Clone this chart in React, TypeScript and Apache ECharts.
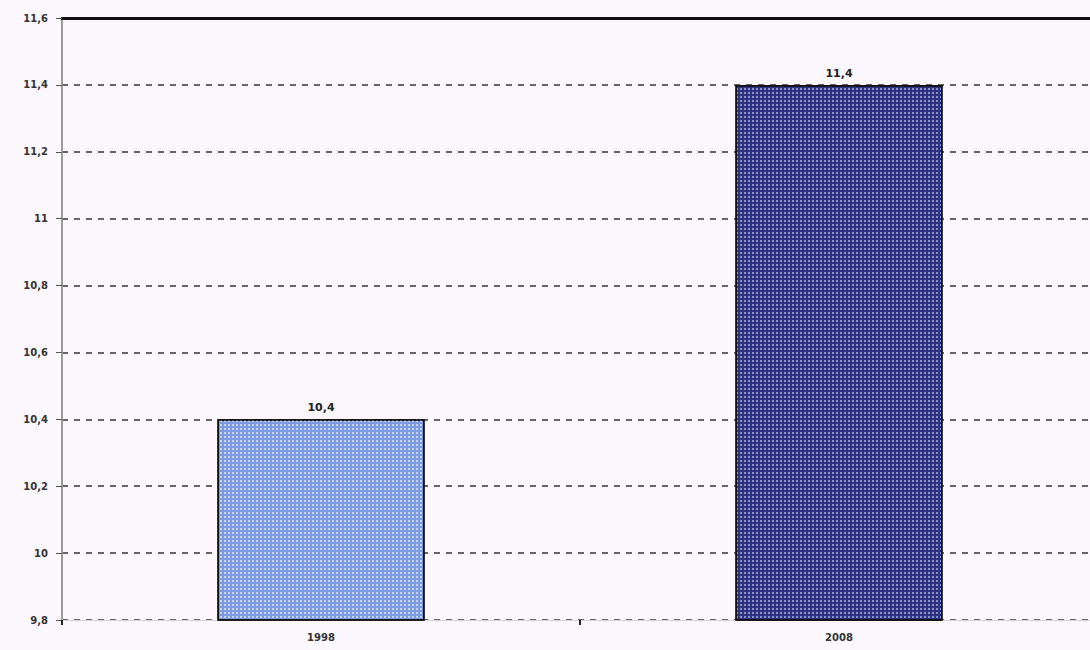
import React, { useEffect, useRef } from "react";
import * as echarts from "echarts";

const categories = ["1998", "2008"];
const values = [10.4, 11.4];
const barColors = ["#7d9ae0", "#2e3282"];
const yMin = 9.8;
const yMax = 11.6;
const yStep = 0.2;

export default function App() {
  const ref = useRef<HTMLDivElement>(null);
  useEffect(() => {
    if (!ref.current) return;
    const chart = echarts.init(ref.current, undefined, { renderer: "svg" });
    const fmt = (v: number) => String(Number(v.toFixed(1))).replace(".", ",");
    chart.setOption({
      animation: false,
      backgroundColor: "#fcf7fc",
      grid: { left: 62, right: 0, top: 18, bottom: 30 },
      xAxis: [
        {
          type: "category",
          data: categories,
          position: "bottom",
          axisLine: { show: true, lineStyle: { color: "#d8d4dc", width: 1 } },
          axisTick: { show: true, length: 5, lineStyle: { color: "#222", width: 2 } },
          axisLabel: {
            color: "#333",
            fontSize: 10,
            fontWeight: "bold",
            fontFamily: "DejaVu Sans",
            margin: 12,
          },
        },
        {
          type: "category",
          data: categories,
          position: "top",
          axisLine: { show: true, lineStyle: { color: "#111", width: 3 } },
          axisTick: { show: false },
          axisLabel: { show: false },
        },
      ],
      yAxis: {
        type: "value",
        min: yMin,
        max: yMax,
        interval: yStep,
        axisLine: { show: true, lineStyle: { color: "#9a9a9a", width: 2 } },
        axisTick: { show: true, length: 6, lineStyle: { color: "#555" } },
        axisLabel: {
          formatter: fmt,
          color: "#333",
          fontSize: 10,
          fontWeight: "bold",
          fontFamily: "DejaVu Sans",
          margin: 14,
        },
        splitLine: {
          show: true,
          lineStyle: { color: "#333", type: [6, 6], width: 1.5 },
        },
      },
      series: [
        {
          type: "bar",
          barWidth: "40%",
          data: values.map((v, i) => ({
            value: v,
            itemStyle: {
              color: barColors[i],
              borderColor: "#111",
              borderWidth: 1.5,
              decal: {
                symbol: "rect",
                symbolSize: 1,
                dashArrayX: [2, 2],
                dashArrayY: [2, 2],
                rotation: 0,
                color: i === 0 ? "rgba(230,238,255,0.7)" : "rgba(220,225,255,0.55)",
              },
            },
          })),
          label: {
            show: true,
            position: "top",
            formatter: (p: any) => fmt(p.value),
            color: "#222",
            fontSize: 11,
            fontWeight: "bold",
            fontFamily: "DejaVu Sans",
            distance: 6,
          },
        },
      ],
    });
    return () => chart.dispose();
  }, []);
  return (
    <div
      style={{
        position: "fixed",
        left: 0,
        top: 0,
        width: 1090,
        height: 650,
        overflow: "hidden",
        background: "#fcf7fc",
      }}
    >
      <div ref={ref} style={{ width: 1098, height: 650 }} />
    </div>
  );
}
